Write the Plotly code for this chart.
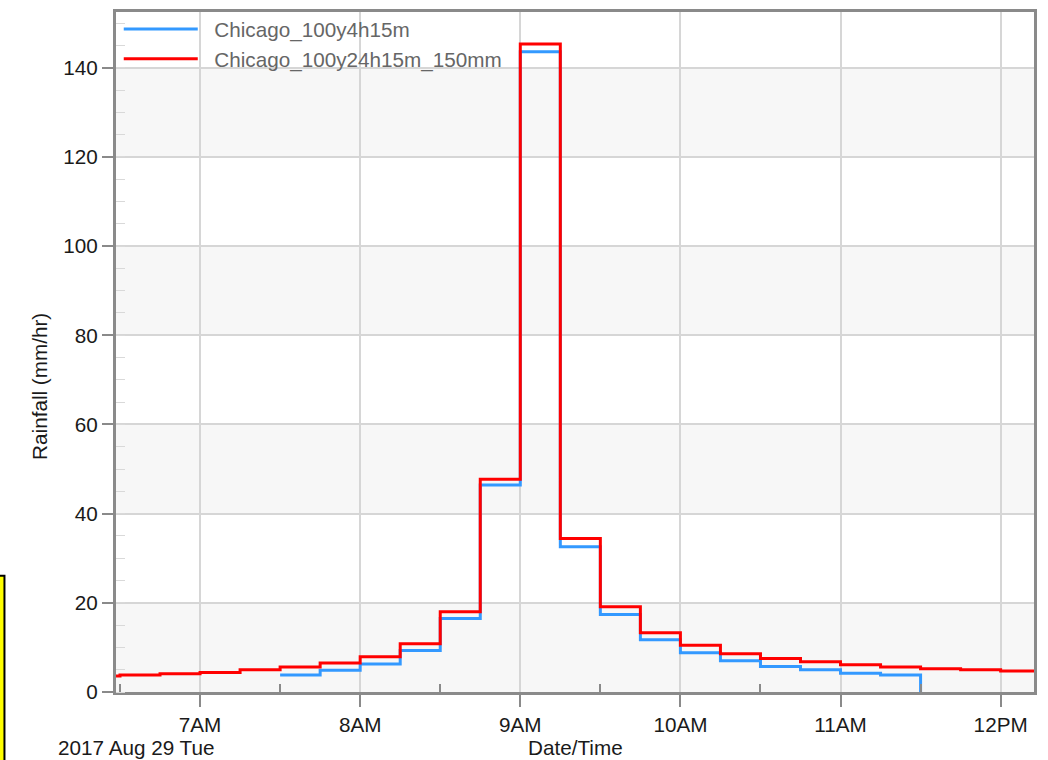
import plotly.graph_objects as go

# 15-minute rainfall intensities (mm/hr), step starts
red_times = ["2017-08-29 06:15", "2017-08-29 06:30", "2017-08-29 06:45", "2017-08-29 07:00",
             "2017-08-29 07:15", "2017-08-29 07:30", "2017-08-29 07:45", "2017-08-29 08:00",
             "2017-08-29 08:15", "2017-08-29 08:30", "2017-08-29 08:45", "2017-08-29 09:00",
             "2017-08-29 09:15", "2017-08-29 09:30", "2017-08-29 09:45", "2017-08-29 10:00",
             "2017-08-29 10:15", "2017-08-29 10:30", "2017-08-29 10:45", "2017-08-29 11:00",
             "2017-08-29 11:15", "2017-08-29 11:30", "2017-08-29 11:45", "2017-08-29 12:00",
             "2017-08-29 12:15"]
red_values = [3.6, 3.8, 4.1, 4.4, 5.0, 5.6, 6.5, 7.9, 10.8, 18.0, 47.7, 145.3,
              34.4, 19.1, 13.3, 10.5, 8.6, 7.5, 6.8, 6.1, 5.6, 5.2, 5.0, 4.7, 4.5]

blue_times = ["2017-08-29 07:30", "2017-08-29 07:45", "2017-08-29 08:00", "2017-08-29 08:15",
              "2017-08-29 08:30", "2017-08-29 08:45", "2017-08-29 09:00", "2017-08-29 09:15",
              "2017-08-29 09:30", "2017-08-29 09:45", "2017-08-29 10:00", "2017-08-29 10:15",
              "2017-08-29 10:30", "2017-08-29 10:45", "2017-08-29 11:00", "2017-08-29 11:15",
              "2017-08-29 11:30"]
blue_values = [3.8, 4.9, 6.3, 9.3, 16.5, 46.4, 143.6, 32.6, 17.4, 11.7, 8.8, 7.0,
               5.7, 5.0, 4.2, 3.8, 0.0]

series_names = ["Chicago_100y4h15m", "Chicago_100y24h15m_150mm"]

x_tickvals = ["2017-08-29 07:00", "2017-08-29 08:00", "2017-08-29 09:00",
              "2017-08-29 10:00", "2017-08-29 11:00", "2017-08-29 12:00"]
x_ticktext = ["7AM", "8AM", "9AM", "10AM", "11AM", "12PM"]
x_minorvals = ["2017-08-29 06:30", "2017-08-29 07:30", "2017-08-29 08:30",
               "2017-08-29 09:30", "2017-08-29 10:30", "2017-08-29 11:30"]
y_tickvals = [0, 20, 40, 60, 80, 100, 120, 140]

FONT = "Liberation Sans, Arial, sans-serif"
FS = 20.7
FRAME = "#8a8a8a"
PAD = "\u00a0\u00a0"  # gap between legend swatch and label

fig = go.Figure()
fig.add_trace(go.Scatter(x=blue_times, y=blue_values, mode="lines", line_shape="hv",
                         line=dict(color="#3399ff", width=3), name=PAD + series_names[0]))
fig.add_trace(go.Scatter(x=red_times, y=red_values, mode="lines", line_shape="hv",
                         line=dict(color="#ff0000", width=3), name=PAD + series_names[1]))

# alternating horizontal bands
shapes = []
for lo, hi in zip(y_tickvals[0::2], y_tickvals[1::2]):
    shapes.append(dict(type="rect", xref="paper", yref="y", x0=0, x1=1, y0=lo, y1=hi,
                       fillcolor="#f7f7f7", line=dict(width=0), layer="below"))
# yellow panel at the left edge
shapes.append(dict(type="rect", xref="paper", yref="paper",
                   x0=-0.132, x1=-0.1215, y0=-0.3, y1=0.171,
                   fillcolor="#ffff00", line=dict(color="#000000", width=2), layer="above"))

fig.update_layout(
    width=1048, height=760,
    margin=dict(l=116, r=14, t=12, b=68, autoexpand=False),
    paper_bgcolor="white", plot_bgcolor="white",
    font=dict(family=FONT, size=FS, color="#1a1a1a"),
    showlegend=True,
    legend=dict(x=0.003, y=1.0045, xanchor="left", yanchor="top",
                bgcolor="rgba(0,0,0,0)", font=dict(size=FS, color="#666666"),
                itemwidth=74, tracegroupgap=0),
    shapes=shapes,
    xaxis=dict(
        type="date",
        range=["2017-08-29 06:28:30", "2017-08-29 12:12:30"],
        tickmode="array", tickvals=x_tickvals, ticktext=x_ticktext,
        ticks="outside", ticklen=12, tickwidth=2, tickcolor=FRAME,
        showgrid=True, gridcolor="#d6d6d6", gridwidth=1.5,
        showline=True, linecolor=FRAME, linewidth=3, mirror=True,
        minor=dict(tickmode="array", tickvals=x_minorvals, ticks="inside",
                   ticklen=8, tickwidth=2, tickcolor=FRAME, showgrid=False),
        tickfont=dict(size=FS, color="#1a1a1a"),
        zeroline=False, automargin=False,
    ),
    yaxis=dict(
        range=[0, 152.5],
        tickmode="array", tickvals=y_tickvals,
        ticks="outside", ticklen=11, tickwidth=2, tickcolor=FRAME,
        showgrid=True, gridcolor="#d6d6d6", gridwidth=1.5,
        showline=True, linecolor=FRAME, linewidth=3, mirror=True,
        minor=dict(dtick=5, ticks="inside", ticklen=9, tickwidth=1,
                   tickcolor="#d9d9d9", showgrid=False),
        tickfont=dict(size=FS, color="#1a1a1a"),
        zeroline=False, automargin=False,
    ),
    annotations=[
        dict(text="Rainfall (mm/hr)", xref="paper", yref="paper",
             x=-0.084, y=0.45, textangle=-90, showarrow=False,
             xanchor="center", yanchor="middle", font=dict(size=FS, color="#1a1a1a")),
        dict(text="Date/Time", xref="paper", yref="paper",
             x=0.5, y=-0.082, showarrow=False,
             xanchor="center", yanchor="middle", font=dict(size=FS, color="#1a1a1a")),
        dict(text="2017 Aug 29 Tue", xref="paper", yref="paper",
             x=-0.0654, y=-0.082, showarrow=False,
             xanchor="left", yanchor="middle", font=dict(size=FS, color="#1a1a1a")),
    ],
)

fig.write_html("out.html")
